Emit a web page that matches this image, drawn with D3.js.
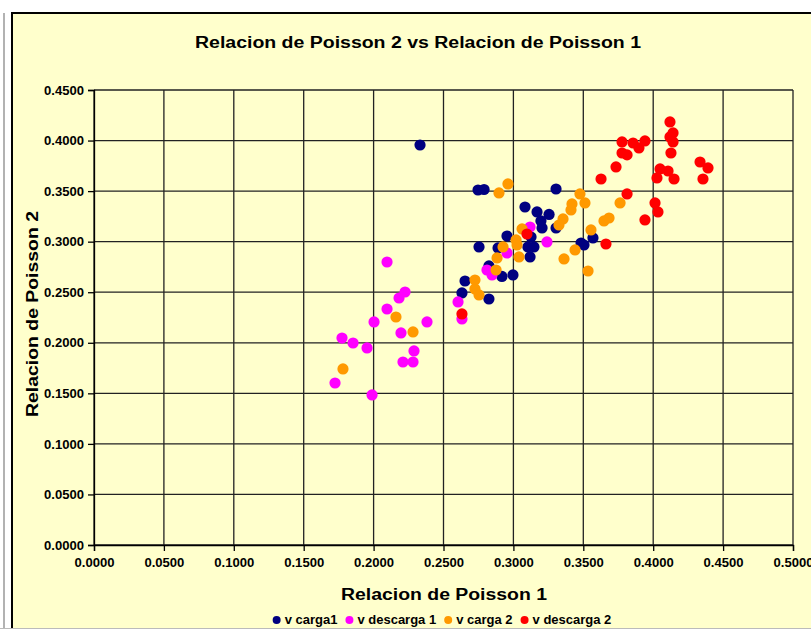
<!DOCTYPE html>
<html>
<head>
<meta charset="utf-8">
<script src="https://cdn.jsdelivr.net/npm/d3@7"></script>
<style>
  body { margin: 0; background: #fff; }
  svg { display: block; font-family: "Liberation Sans", Arial, sans-serif; }
</style>
</head>
<body>
<div id="chart"></div>
<script>
//Data (x = Relacion de Poisson 1, y = Relacion de Poisson 2)
var cargaX1 = [0.2332,0.2747,0.2790,0.3305,0.3083,0.3169,0.3255,0.3197,0.3205,0.3126,0.2954,0.2754,0.2890,0.3104,0.3147,0.3119,0.2825,0.2918,0.2997,0.2654,0.2632,0.2825,0.3484,0.3505,0.3569,0.3305];
var cargaY1 = [0.3956,0.3511,0.3516,0.3521,0.3343,0.3294,0.3269,0.3205,0.3136,0.3046,0.3056,0.2948,0.2938,0.2948,0.2948,0.2849,0.2760,0.2656,0.2671,0.2611,0.2493,0.2433,0.2987,0.2967,0.3037,0.3135];

var descargaX1 = [0.2096,0.2225,0.2182,0.2096,0.2003,0.2382,0.2196,0.1774,0.1853,0.1953,0.2289,0.2210,0.2282,0.1724,0.1989,0.2604,0.2632,0.2811,0.2847,0.2954,0.3119,0.3240];
var descargaY1 = [0.2799,0.2502,0.2443,0.2334,0.2206,0.2206,0.2097,0.2047,0.1998,0.1949,0.1919,0.1810,0.1810,0.1602,0.1484,0.2404,0.2235,0.2720,0.2671,0.2888,0.3145,0.2997];

var cargaX2 = [0.1781,0.2160,0.2282,0.2961,0.2897,0.2725,0.2725,0.2754,0.2876,0.2883,0.2926,0.3019,0.3026,0.3040,0.3062,0.3476,0.3512,0.3419,0.3412,0.3355,0.3326,0.3555,0.3648,0.3684,0.3763,0.3441,0.3362,0.3534];
var cargaY2 = [0.1741,0.2255,0.2107,0.3571,0.3482,0.2621,0.2532,0.2473,0.2720,0.2839,0.2948,0.3017,0.2967,0.2849,0.3126,0.3472,0.3383,0.3373,0.3314,0.3225,0.3165,0.3116,0.3205,0.3234,0.3383,0.2918,0.2829,0.2710];

var descargaX2 = [0.2632,0.3097,0.3662,0.3941,0.4013,0.4034,0.3813,0.3627,0.3734,0.3777,0.3856,0.3898,0.3941,0.3777,0.3813,0.4120,0.4142,0.4120,0.4142,0.4127,0.4049,0.4106,0.4027,0.4149,0.4335,0.4392,0.4356];
var descargaY2 = [0.2285,0.3076,0.2977,0.3215,0.3383,0.3294,0.3472,0.3620,0.3739,0.3986,0.3976,0.3927,0.3996,0.3877,0.3858,0.4184,0.4075,0.4036,0.3986,0.3877,0.3719,0.3699,0.3630,0.3620,0.3788,0.3729,0.3620];

var seriesNames = ["v carga1","v descarga 1","v carga 2","v descarga 2"];
var seriesColors = ["#000080","#FF00FF","#FF9900","#FF0000"];
var xTicks = [0,0.05,0.1,0.15,0.2,0.25,0.3,0.35,0.4,0.45,0.5];
var yTicks = [0,0.05,0.1,0.15,0.2,0.25,0.3,0.35,0.4,0.45];

var series = [
    [cargaX1, cargaY1],
    [descargaX1, descargaY1],
    [cargaX2, cargaY2],
    [descargaX2, descargaY2]
].map(function(s, i) {
    return {
        name: seriesNames[i],
        color: seriesColors[i],
        points: s[0].map(function(x, j) { return [x, s[1][j]]; })
    };
});

var W = 811, H = 632;
var plotLeft = 94, plotTop = 90, pw = 699, ph = 455;

var svg = d3.select("#chart")
    .append("svg")
    .attr("width", W)
    .attr("height", H);

//Window bits and chart area
svg.append("line")
    .attr("x1", 4).attr("x2", 4).attr("y1", 13).attr("y2", 628)
    .attr("stroke", "#999").attr("stroke-width", 1.5);
svg.append("rect")
    .attr("x", 12).attr("y", 13)
    .attr("width", 820).attr("height", 630)
    .attr("fill", "#FFFFCC")
    .attr("stroke", "#000")
    .attr("stroke-width", 2);
svg.append("rect")
    .attr("x", 0).attr("y", 628)
    .attr("width", W).attr("height", 4)
    .attr("fill", "#fff");
svg.append("line")
    .attr("x1", 0).attr("x2", W).attr("y1", 628.5).attr("y2", 628.5)
    .attr("stroke", "#bbb").attr("stroke-width", 1);

var x = d3.scaleLinear().domain([0, 0.5]).range([plotLeft, plotLeft + pw]);
var y = d3.scaleLinear().domain([0, 0.45]).range([plotTop + ph, plotTop]);

//Grid
var g = svg.append("g");
g.selectAll("line.v")
    .data(xTicks)
    .enter()
    .append("line")
    .attr("class", "v")
    .attr("x1", d => x(d)).attr("x2", d => x(d))
    .attr("y1", plotTop).attr("y2", plotTop + ph)
    .attr("stroke", "#222").attr("stroke-width", 1.3);
g.selectAll("line.h")
    .data(yTicks)
    .enter()
    .append("line")
    .attr("class", "h")
    .attr("x1", plotLeft).attr("x2", plotLeft + pw)
    .attr("y1", d => y(d)).attr("y2", d => y(d))
    .attr("stroke", "#222").attr("stroke-width", 1.3);

//Axes
var fmt = d3.format(".4f");
var xAxis = svg.append("g")
    .attr("transform", "translate(0," + (plotTop + ph) + ")")
    .call(d3.axisBottom(x).tickValues(xTicks).tickFormat(fmt).tickSize(6).tickPadding(7));
var yAxis = svg.append("g")
    .attr("transform", "translate(" + plotLeft + ",0)")
    .call(d3.axisLeft(y).tickValues(yTicks).tickFormat(fmt).tickSize(6).tickPadding(4));

[xAxis, yAxis].forEach(function(a) {
    a.select(".domain").attr("stroke", "#000").attr("stroke-width", 1.3);
    a.selectAll(".tick line").attr("stroke", "#000").attr("stroke-width", 1.3);
    a.selectAll("text")
        .attr("fill", "#000")
        .style("font-size", "13px")
        .style("font-weight", "bold")
        .style("font-family", "'Liberation Sans', Arial, sans-serif")
        .attr("textLength", 40)
        .attr("lengthAdjust", "spacingAndGlyphs");
});

//Points
var sg = svg.selectAll("g.series")
    .data(series)
    .enter()
    .append("g")
    .attr("class", "series")
    .attr("fill", d => d.color);
sg.selectAll("circle")
    .data(d => d.points)
    .enter()
    .append("circle")
    .attr("cx", d => x(d[0]))
    .attr("cy", d => y(d[1]))
    .attr("r", 5.6);

//Titles
svg.append("text")
    .attr("x", 418).attr("y", 48)
    .attr("text-anchor", "middle")
    .attr("textLength", 446).attr("lengthAdjust", "spacingAndGlyphs")
    .style("font-size", "16px").style("font-weight", "bold")
    .text("Relacion de Poisson 2 vs Relacion de Poisson 1");

svg.append("text")
    .attr("x", 444).attr("y", 600)
    .attr("text-anchor", "middle")
    .attr("textLength", 206).attr("lengthAdjust", "spacingAndGlyphs")
    .style("font-size", "16px").style("font-weight", "bold")
    .text("Relacion de Poisson 1");

svg.append("text")
    .attr("transform", "translate(38,314) rotate(-90)")
    .attr("text-anchor", "middle")
    .attr("textLength", 206).attr("lengthAdjust", "spacingAndGlyphs")
    .style("font-size", "16px").style("font-weight", "bold")
    .text("Relacion de Poisson 2");

//Legend
var legend = svg.append("g");
var items = legend.selectAll("g")
    .data(series)
    .enter()
    .append("g");
items.append("circle")
    .attr("r", 4)
    .attr("cy", -4)
    .attr("fill", d => d.color);
items.append("text")
    .attr("x", 8)
    .style("font-size", "13px")
    .style("font-weight", "bold")
    .text(d => d.name);
var pos = 0;
items.each(function() {
    var w = this.querySelector("text").getComputedTextLength();
    d3.select(this).attr("transform", "translate(" + pos + ",0)");
    pos += 8 + w + 12;
});
legend.attr("transform", "translate(" + (440 - (pos - 12) / 2 + 4) + ",624)");
</script>
</body>
</html>
